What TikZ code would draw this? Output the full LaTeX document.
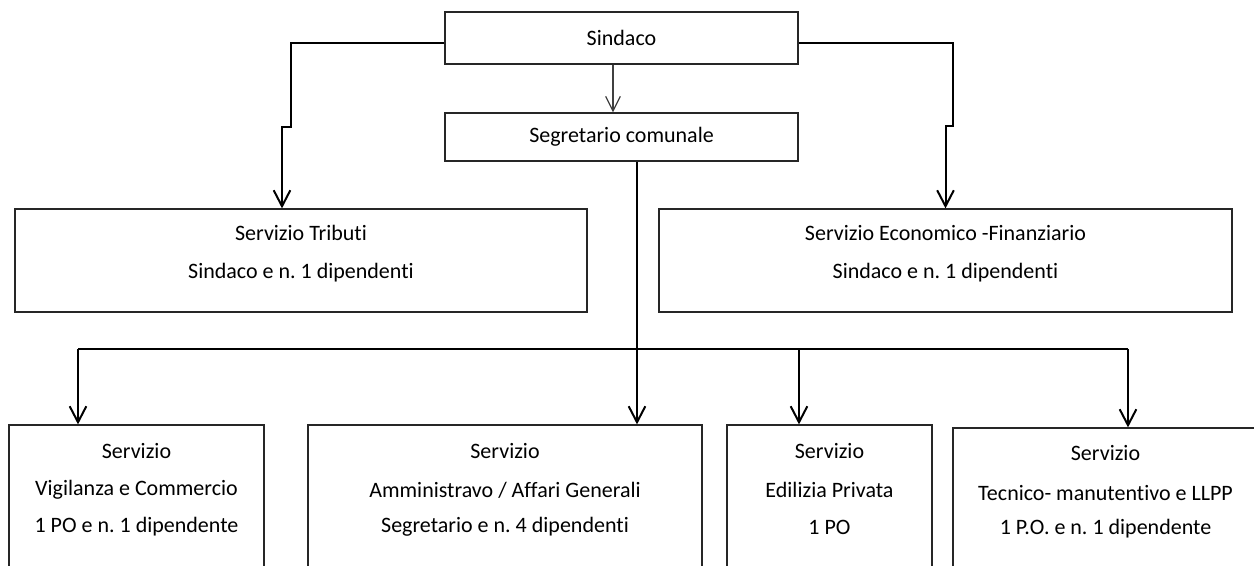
\documentclass[tikz,border=0pt]{standalone}
\usepackage{fontspec}
\setmainfont{Carlito}[Ligatures=NoCommon]
\usetikzlibrary{arrows.meta}
\frenchspacing
\begin{document}
\begin{tikzpicture}[x=0.75pt,y=-0.75pt,
  box/.style={draw=black!85, line width=0.9pt, rectangle, inner sep=0pt},
  lbl/.style={font=\fontsize{16.5}{20}\selectfont, inner sep=0pt, anchor=center},
  wire/.style={line width=1.5pt},
  conn/.style={line width=1.5pt, -{Straight Barb[length=12pt,width=12.5pt]}},
  thinconn/.style={line width=0.9pt, draw=black!75, -{Straight Barb[length=11pt,width=11pt]}}
]
\useasboundingbox (0,0) rectangle (1254,566);

% boxes
\node[box, minimum width=264.75pt, minimum height=39pt] (sindaco) at (621.5,38) {};
\node[box, minimum width=264.75pt, minimum height=36pt] (segretario) at (621.5,137) {};
\node[box, minimum width=429pt, minimum height=77.25pt] (tributi) at (301,260.5) {};
\node[box, minimum width=429.75pt, minimum height=77.25pt] (economico) at (945.5,260.5) {};
\node[box, minimum width=191.25pt, minimum height=116.25pt] (vigilanza) at (136.5,502.5) {};
\node[box, minimum width=295.5pt, minimum height=116.25pt] (amministrativo) at (505,502.5) {};
\node[box, minimum width=153.75pt, minimum height=116.25pt] (edilizia) at (829.5,502.5) {};
\node[box, minimum width=228.75pt, minimum height=114pt] (tecnico) at (1105.5,504) {};

% texts
\node[lbl] (t-sindaco) at (621.5,38) {Sindaco};
\node[lbl] (t-segretario) at (621.5,137) {Segretario comunale};
\node[lbl] (t-trib1) at (301,233) {Servizio Tributi};
\node[lbl] (t-trib2) at (301,273) {Sindaco e n. 1 dipendenti};
\node[lbl] (t-eco1) at (945.5,233) {Servizio Economico -Finanziario};
\node[lbl] (t-eco2) at (945.5,273) {Sindaco e n. 1 dipendenti};
\node[lbl] (t-vig1) at (136.5,451) {Servizio};
\node[lbl] (t-vig2) at (136.5,490) {Vigilanza e Commercio};
\node[lbl] (t-vig3) at (136.5,527) {1 PO e n. 1 dipendente};
\node[lbl] (t-amm1) at (505,451) {Servizio};
\node[lbl] (t-amm2) at (505,490) {Amministravo / Affari Generali};
\node[lbl] (t-amm3) at (505,527) {Segretario e n. 4 dipendenti};
\node[lbl] (t-edi1) at (829.5,451) {Servizio};
\node[lbl] (t-edi2) at (829.5,490) {Edilizia Privata};
\node[lbl] (t-edi3) at (829.5,527) {1 PO};
\node[lbl] (t-tec1) at (1105.5,453) {Servizio};
\node[lbl] (t-tec2) at (1105.5,493) {Tecnico- manutentivo e LLPP};
\node[lbl] (t-tec3) at (1105.5,529) {1 P.O. e n. 1 dipendente};

% connector helper coordinates
\coordinate (sa) at (613,0);
\coordinate (lj1) at (291,127);
\coordinate (lj2) at (282,127);
\coordinate (rj1) at (953,126);
\coordinate (rj2) at (945.5,126);
\coordinate (vx) at (637,0);
\coordinate (hl) at (78,349);
\coordinate (he) at (799,349);
\coordinate (hr) at (1128,349);

% connectors
\draw[thinconn] (sindaco.south -| sa) -- (segretario.north -| sa);
\draw[conn] (sindaco.west |- 0,43) -| (lj1) -- (lj2) -- (tributi.north -| lj2);
\draw[conn] (sindaco.east |- 0,43) -| (rj1) -- (rj2) -- (economico.north);
\draw[conn] (segretario.south -| vx) -- (amministrativo.north -| vx);
\draw[wire] (hl) -- (hr);
\draw[conn] (hl) -- (vigilanza.north -| hl);
\draw[conn] (he) -- (edilizia.north -| he);
\draw[conn] (hr) -- (tecnico.north -| hr);
\end{tikzpicture}
\end{document}
